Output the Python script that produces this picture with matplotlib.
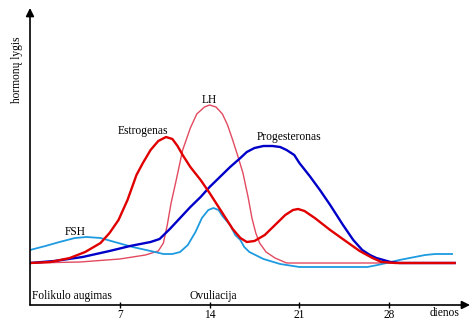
import numpy as np
import matplotlib
matplotlib.use("Agg")
import matplotlib.pyplot as plt

plt.rcParams['font.family'] = ['Liberation Serif', 'DejaVu Serif']

# Hormone levels (arbitrary units) against cycle day
est_days = [0, 1.6, 3.1, 4.3, 5.5, 6.2, 6.9, 7.6, 8.3, 8.8, 9.4, 10.0, 10.6, 11.1, 11.5, 11.9,
            12.5, 13.3, 14.0, 15.0, 15.8, 16.4, 16.9, 17.5, 18.3, 19.1, 19.9, 20.5, 20.9, 21.4,
            22.2, 23.4, 24.6, 25.7, 26.7, 27.4, 28.5, 33.1]
est_level = [42, 43, 47, 53, 62, 72, 85, 105, 130, 142, 155, 164, 168, 166, 159, 150,
             138, 125, 112, 92, 76, 67, 63, 64, 70, 80, 90, 95, 96, 94,
             87, 75, 64, 54, 47, 43, 42, 42]

lh_days = [0, 3.9, 7.0, 9.0, 10.0, 10.4, 10.7, 11.0, 11.4, 11.9, 12.5, 13.0, 13.6, 14.0, 14.5,
           15.0, 15.4, 15.8, 16.2, 16.6, 17.0, 17.3, 17.6, 17.9, 18.4, 19.1, 20.0, 33.1]
lh_level = [42, 43, 46, 50, 54, 62, 80, 102, 125, 155, 177, 191, 198, 200, 198,
            191, 180, 165, 149, 132, 108, 87, 72, 62, 53, 47, 42, 42]

fsh_days = [0, 1.2, 2.3, 3.5, 4.4, 5.5, 6.6, 8.0, 9.4, 10.4, 11.1, 11.7, 12.3, 12.9, 13.4, 13.9,
            14.3, 14.7, 15.0, 15.6, 16.0, 16.4, 16.7, 17.1, 18.2, 19.5, 21.0, 23.4, 26.3, 27.1,
            27.8, 28.8, 29.6, 30.8, 31.6, 32.9]
fsh_level = [55, 59, 63, 67, 68, 67, 63, 58, 54, 51, 51, 53, 60, 73, 87, 95,
             97, 95, 89, 80, 70, 65, 58, 53, 46, 41, 38, 38, 38, 40,
             42, 45, 47, 50, 51, 51]

prog_days = [0, 1.9, 4.1, 6.2, 7.8, 9.4, 10.1, 10.9, 11.7, 12.5, 13.3, 14.0, 14.8, 15.6, 16.4,
             16.9, 17.5, 18.2, 18.9, 19.5, 20.0, 20.6, 21.0, 21.8, 22.6, 23.4, 24.4, 25.2,
             25.9, 26.5, 27.0, 28.1, 28.8, 33.1]
prog_level = [42, 44, 48, 54, 59, 63, 66, 76, 87, 98, 108, 118, 128, 138, 147,
              153, 157, 159, 159, 158, 155, 150, 142, 129, 115, 100, 80, 65,
              55, 50, 47, 43, 42, 42]

day_ticks = [7, 14, 21, 28]

fig = plt.figure(figsize=(4.74, 3.35), dpi=100)
ax = fig.add_axes([30/474, 30/335, 440/474, 297/335])
ax.set_xlim(0, 34.3)
ax.set_ylim(0, 297)

ax.plot(lh_days, lh_level, color="#e24a60", lw=1.0)
ax.plot(fsh_days, fsh_level, color="#1e9be0", lw=1.3)
ax.plot(prog_days, prog_level, color="#0000c8", lw=1.7, solid_joinstyle="round")
ax.plot(est_days, est_level, color="#e00000", lw=1.7, solid_joinstyle="round")

# axes with arrow heads
for s in ax.spines.values():
    s.set_visible(False)
ax.annotate("", xy=(1, 0), xytext=(0, 0), xycoords="axes fraction",
            arrowprops=dict(arrowstyle="-|>", color="black", lw=1.2, mutation_scale=12,
                            shrinkA=0, shrinkB=0))
ax.annotate("", xy=(0, 1), xytext=(0, 0), xycoords="axes fraction",
            arrowprops=dict(arrowstyle="-|>", color="black", lw=1.2, mutation_scale=12,
                            shrinkA=0, shrinkB=0))
ax.set_xticks(day_ticks)
ax.set_xticklabels([str(d) for d in day_ticks], fontsize=8.3)
ax.tick_params(axis="x", direction="inout", length=4, width=1, pad=1)
ax.set_yticks([])

fs = 8.3
ax.text(8.8, 174, "Estrogenas", ha="center", va="center", fontsize=fs)
ax.text(14.0, 205, "LH", ha="center", va="center", fontsize=fs)
ax.text(20.2, 168, "Progesteronas", ha="center", va="center", fontsize=fs)
ax.text(3.5, 73, "FSH", ha="center", va="center", fontsize=fs)
ax.text(0.15, 9, "Folikulo augimas", ha="left", va="center", fontsize=fs)
ax.text(14.3, 9, "Ovuliacija", ha="center", va="center", fontsize=fs)
ax.text(32.3, -8, "dienos", ha="center", va="center", fontsize=fs, clip_on=False)
ax.text(-1.0, 235, "hormonų lygis", ha="center", va="center", rotation=90,
        fontsize=fs, clip_on=False)

fig.savefig("out.png", dpi=100)
